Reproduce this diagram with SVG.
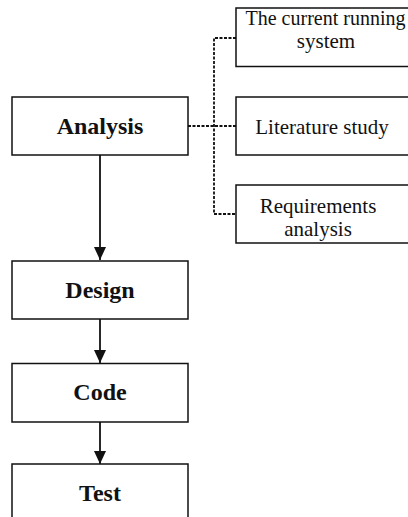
<svg xmlns="http://www.w3.org/2000/svg" width="408" height="517" viewBox="0 0 408 517">
<defs>
<style>
.box{fill:#fff;stroke:#111;stroke-width:1.5}
.bt{font-family:"Liberation Serif","Times New Roman",serif;font-weight:bold;font-size:24px;fill:#111;text-anchor:middle}
.rt{font-family:"Liberation Serif","Times New Roman",serif;font-size:21px;fill:#111;text-anchor:middle}
.arrow{stroke:#111;stroke-width:1.8;fill:none;marker-end:url(#ah)}
.dash{stroke:#111;stroke-width:1.8;fill:none;stroke-dasharray:3 1.5}
</style>
<marker id="ah" markerUnits="userSpaceOnUse" markerWidth="12" markerHeight="14" refX="13" refY="6" orient="auto">
<path d="M0,0 L13,6 L0,12 z" fill="#111"/>
</marker>
</defs>
<rect width="408" height="517" fill="#fff"/>
<g id="connectors">
<path class="arrow" d="M100,155 V260"/>
<path class="arrow" d="M100,319 V363"/>
<path class="arrow" d="M100,422 V464"/>
<path class="dash" d="M188,126 H236"/>
<path class="dash" d="M236,38 H214 V214 H236"/>
</g>
<g id="analysis">
<rect class="box" x="12" y="97" width="176" height="58"/>
<text class="bt" x="100" y="133.5">Analysis</text>
</g>
<g id="design">
<rect class="box" x="12" y="261" width="176" height="58"/>
<text class="bt" x="100" y="297.5">Design</text>
</g>
<g id="code">
<rect class="box" x="12" y="363.5" width="176" height="58.5"/>
<text class="bt" x="100" y="400">Code</text>
</g>
<g id="test">
<rect class="box" x="12" y="464" width="176" height="70"/>
<text class="bt" x="100" y="500.5">Test</text>
</g>
<g id="current-system">
<rect class="box" x="236" y="8" width="180" height="58.5"/>
<text class="rt" x="325.5" y="24.5" style="font-size:20px">The current running</text>
<text class="rt" x="326" y="48">system</text>
</g>
<g id="literature">
<rect class="box" x="236" y="97" width="180" height="58"/>
<text class="rt" x="322" y="133.5">Literature study</text>
</g>
<g id="requirements">
<rect class="box" x="236" y="185" width="180" height="58"/>
<text class="rt" x="318" y="212.5">Requirements</text>
<text class="rt" x="318" y="235.5">analysis</text>
</g>
</svg>
